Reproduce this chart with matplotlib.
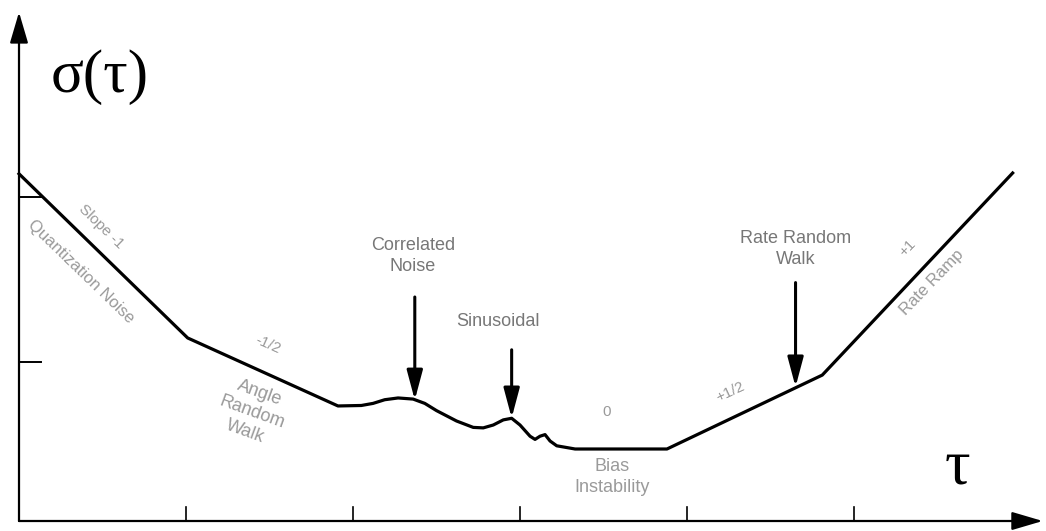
import matplotlib
matplotlib.use('Agg')
import matplotlib.pyplot as plt

# schematic Allan deviation curve (tau, sigma) in arbitrary units
tau_pts = [0.0, 1.01, 1.91, 2.05, 2.12, 2.19, 2.27, 2.36, 2.43, 2.50, 2.62, 2.72, 2.78,
           2.84, 2.90, 2.95, 3.00, 3.06, 3.09, 3.12, 3.15, 3.18, 3.22, 3.33, 3.88, 4.81, 5.95]
sigma_pts = [2.17, 1.144, 0.719, 0.722, 0.735, 0.758, 0.769, 0.762, 0.735, 0.69, 0.625,
             0.585, 0.582, 0.60, 0.632, 0.642, 0.60, 0.53, 0.51, 0.53, 0.54, 0.50,
             0.47, 0.45, 0.45, 0.912, 2.175]

x_ticks = [1, 2, 3, 4, 5]
y_ticks = [0.994, 2.025]

# (label, arrow tip tau, arrow tip sigma, arrow tail sigma)
arrow_labels = [("Correlated\nNoise", 2.37, 0.756, 1.4),
                ("Sinusoidal", 2.95, 0.644, 1.07),
                ("Rate Random\nWalk", 4.65, 0.838, 1.49)]

label_color = '#777777'
faint_color = '#9a9a9a'

fig = plt.figure(figsize=(10.46, 5.31), dpi=100)
ax = fig.add_axes([0, 0, 1, 1])
ax.set_xlim(-0.1138, 6.1497)
ax.set_ylim(-0.0625, 3.25625)
ax.axis('off')

# axes with arrow heads
axis_arrow = dict(arrowstyle='-|>,head_length=0.95,head_width=0.28', lw=1.6,
                  color='black', mutation_scale=20, shrinkA=0, shrinkB=0)
ax.annotate('', xy=(0, 3.18), xytext=(0, 0), arrowprops=axis_arrow)
ax.annotate('', xy=(6.13, 0), xytext=(0, 0), arrowprops=axis_arrow)

for t in x_ticks:
    ax.plot([t, t], [0, 0.0875], color='black', lw=1.2)
for s in y_ticks:
    ax.plot([0, 0.13], [s, s], color='black', lw=1.4)

ax.plot(tau_pts, sigma_pts, color='black', lw=2.3, solid_joinstyle='round')

ann_arrow = dict(arrowstyle='-|>,head_length=0.9,head_width=0.24', lw=2.2,
                 color='black', mutation_scale=20, shrinkA=0, shrinkB=0)
for text, tx, ty, tail in arrow_labels:
    ax.annotate('', xy=(tx, ty), xytext=(tx, tail), arrowprops=ann_arrow)

lab = dict(family='Liberation Sans', fontsize=13, color=label_color,
           ha='center', va='center', linespacing=1.3)
ax.text(2.36, 1.656, "Correlated\nNoise", **lab)
ax.text(2.87, 1.244, "Sinusoidal", **lab)
ax.text(4.65, 1.70, "Rate Random\nWalk", **lab)
ax.text(3.55, 0.275, "Bias\nInstability", **dict(lab, color=faint_color))
ax.text(1.395, 0.68, "Angle\nRandom\nWalk", rotation=-20, **dict(lab, color=faint_color))
ax.text(0.37, 1.56, "Quantization Noise", rotation=-44, **dict(lab, color=faint_color, fontsize=12))
ax.text(5.467, 1.494, "Rate Ramp", rotation=46, **dict(lab, color=faint_color, fontsize=12))

slope = dict(family='Liberation Sans', fontsize=11, color=faint_color, ha='center', va='center')
ax.text(0.49, 1.84, "Slope -1", rotation=-44, **slope)
ax.text(1.49, 1.10, "-1/2", rotation=-24, **slope)
ax.text(3.52, 0.68, "0", **slope)
ax.text(4.26, 0.806, "+1/2", rotation=25, **slope)
ax.text(5.317, 1.706, "+1", rotation=46, **slope)

ax.text(0.485, 2.775, r"σ(τ)", family='Liberation Serif', fontsize=44,
        ha='center', va='center')
ax.text(5.617, 0.33, r"τ", family='Liberation Serif', fontsize=46,
        ha='center', va='center')

fig.savefig('out.png', dpi=100, facecolor='white')
